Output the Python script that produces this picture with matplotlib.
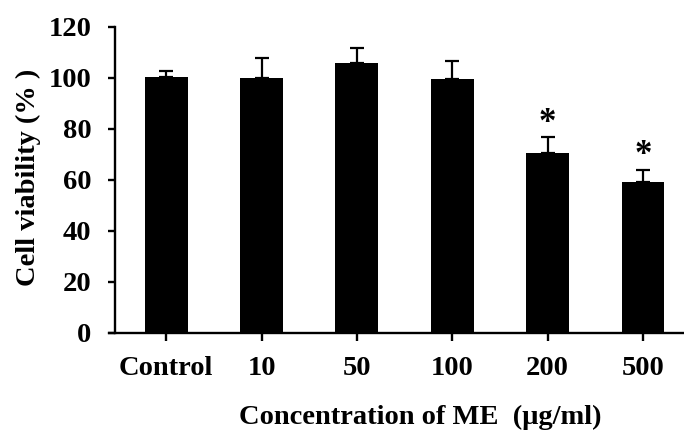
import matplotlib.pyplot as plt
import numpy as np

# cell viability data
categories = ['Control', '10', '50', '100', '200', '500']
viability = [100.2, 100.0, 105.8, 99.6, 70.4, 59.0]
sd = [2.3, 7.7, 6.0, 6.8, 6.2, 5.0]
marks = ['', '', '', '', '*', '*']

plt.rcParams['font.family'] = 'Liberation Serif'
plt.rcParams['font.weight'] = 'bold'

fig = plt.figure(figsize=(6.84, 4.30), dpi=100)
ax = fig.add_axes([109 / 684, 1 - 332.7 / 430, 1 - 109 / 684, (332.7 - 26.7) / 430])

x = np.arange(len(categories))
ax.bar(x, viability, width=0.45, color='black', zorder=2)
ax.errorbar(x, viability, yerr=[np.zeros(len(sd)), sd], fmt='none',
            ecolor='black', elinewidth=1.6, capsize=4.8, capthick=1.6, zorder=1)

for xi, v, e, m in zip(x, viability, sd, marks):
    if m:
        ax.text(xi, v + e - 1.0, m, ha='center', va='bottom', fontsize=25,
                fontweight='bold')

ax.set_xlim(-0.6, 5.43)
ax.set_ylim(0, 120)
ax.set_yticks(np.arange(0, 121, 20))
ax.set_xticks(x)
ax.set_xticklabels(categories)

ax.spines['top'].set_visible(False)
ax.spines['right'].set_visible(False)
ax.spines['left'].set_position(('data', -0.535))
for s in ['left', 'bottom']:
    ax.spines[s].set_linewidth(1.7)

ax.tick_params(axis='y', direction='out', length=5, width=1.7, labelsize=20.5, pad=12)
ax.tick_params(axis='x', direction='out', length=6, width=1.7, labelsize=20.5, pad=11)

fig.text(28 / 684, 1 - 177 / 430, 'Cell viability (% )', rotation=90,
         ha='center', va='center', fontsize=20.5, fontweight='bold')
fig.text(420 / 684, 1 - 417 / 430, 'Concentration of ME  (\u03bcg/ml)',
         ha='center', va='center', fontsize=20.5, fontweight='bold')

fig.savefig('out.png', dpi=100)
